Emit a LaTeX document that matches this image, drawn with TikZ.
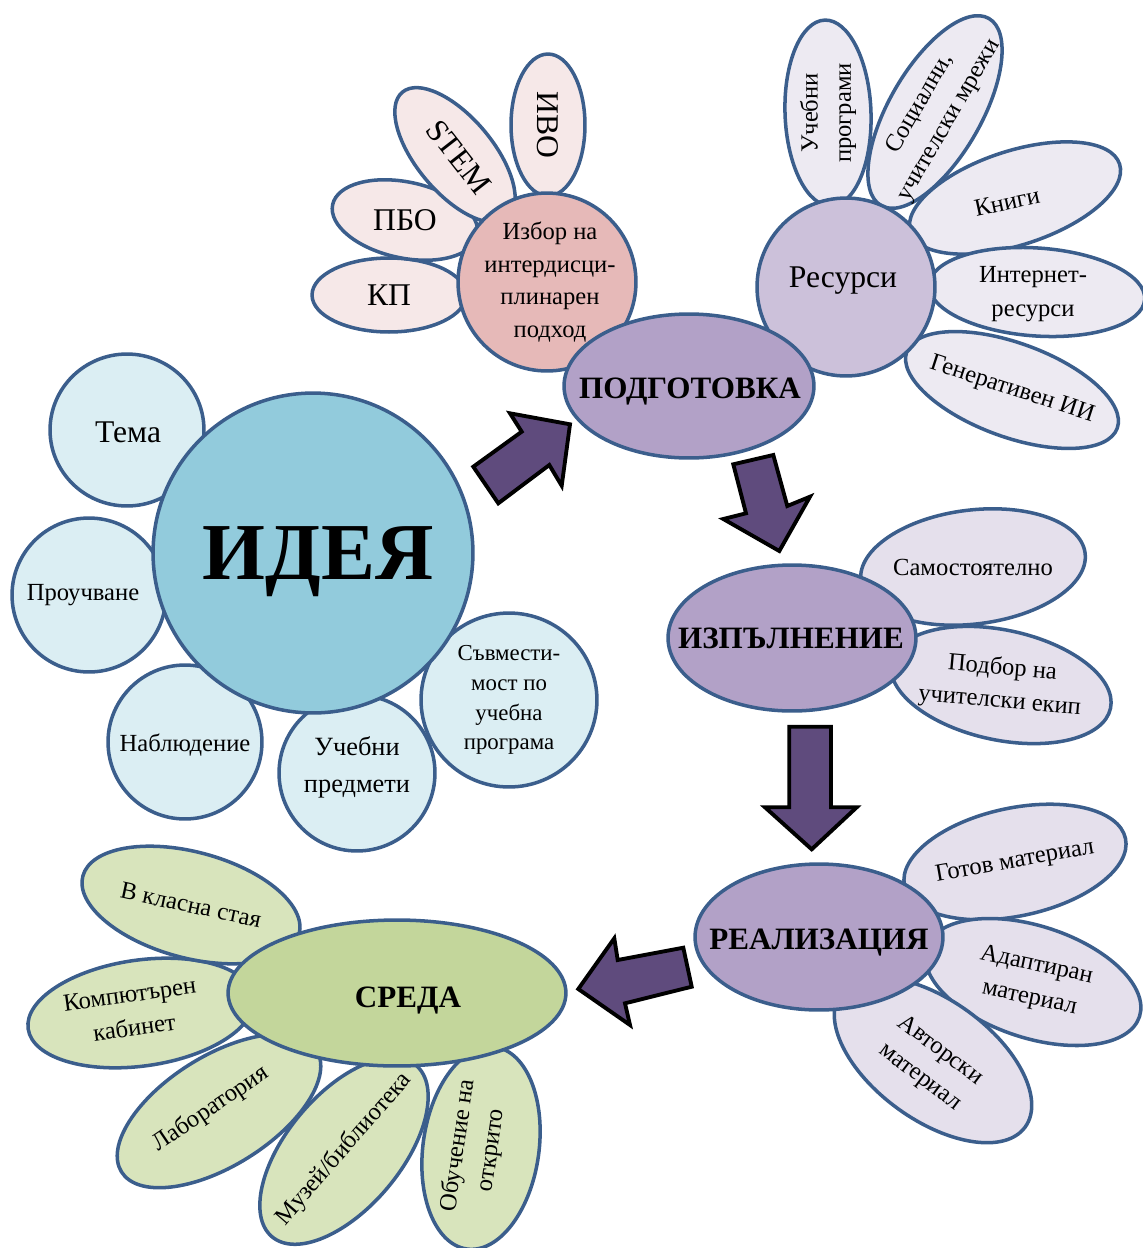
\documentclass[tikz,border=0pt]{standalone}
\usepackage{fontspec}
\setmainfont{Liberation Serif}
\usetikzlibrary{shapes.geometric}
\pgfdeclarelayer{fg}
\pgfsetlayers{main,fg}
\definecolor{edgeblue}{RGB}{59,94,140}
\definecolor{ideaC}{RGB}{146,203,220}
\definecolor{ideaP}{RGB}{219,238,243}
\definecolor{pinkC}{RGB}{230,185,184}
\definecolor{pinkP}{RGB}{246,232,232}
\definecolor{violetM}{RGB}{178,161,199}
\definecolor{resC}{RGB}{204,193,218}
\definecolor{resP}{RGB}{237,234,242}
\definecolor{lilacP}{RGB}{229,224,236}
\definecolor{greenC}{RGB}{195,214,155}
\definecolor{greenP}{RGB}{216,228,188}
\definecolor{arrowfill}{RGB}{95,75,125}
% name, x, y, rx, ry, shape angle, fill style, text options, text
\newcommand\petal[9]{%
  \node[base,#7,minimum width={#4*0.04cm},minimum height={#5*0.04cm},rotate=#6] (#1) at (#2,#3) {};
  \begin{pgfonlayer}{fg}
  \node[align=center,inner sep=0pt,#8] (#1t) at (#1.center) {#9};
  \end{pgfonlayer}}
\begin{document}
\begin{tikzpicture}[x=0.02cm,y=-0.02cm,
  base/.style={ellipse,draw=edgeblue,line width=2pt,inner sep=0pt},
  fIdeaC/.style={fill=ideaC}, fIdeaP/.style={fill=ideaP},
  fPinkC/.style={fill=pinkC}, fPinkP/.style={fill=pinkP},
  fViolet/.style={fill=violetM}, fResC/.style={fill=resC},
  fResP/.style={fill=resP}, fLilac/.style={fill=lilacP},
  fGreenC/.style={fill=greenC}, fGreenP/.style={fill=greenP},
  tS/.style={font=\fontsize{14}{19}\selectfont},
  tM/.style={font=\fontsize{18}{22}\selectfont},
  tB/.style={font=\fontsize{17.7}{21}\selectfont\bfseries,text depth=0pt},
  blockarrow/.style={fill=arrowfill,draw=black,line width=2.2pt,line join=miter}]
\useasboundingbox (0,0) rectangle (1143,1248);

% ---------- IDEA ----------
\petal{tema}{127}{430}{77}{76}{0}{fIdeaP}{tM,shift={(1,2)}}{Тема}
\petal{prouch}{89}{595}{77}{77}{0}{fIdeaP}{tS,shift={(-6,0)}}{Проучване}
\petal{nabl}{185}{742}{77}{77}{0}{fIdeaP}{tS,shift={(0,3)}}{Наблюдение}
\petal{uchpr}{357}{773}{78}{78}{0}{fIdeaP}{font=\fontsize{15}{21}\selectfont,shift={(0,-6)}}{Учебни\\предмети}
\petal{savm}{509}{700}{88}{87}{0}{fIdeaP}{font=\fontsize{13}{17}\selectfont}{Съвмести-\\мост по\\учебна\\програма}
\petal{idea}{313}{553}{160}{160}{0}{fIdeaC}{font=\fontsize{46}{50}\selectfont\bfseries,text depth=0pt,shift={(5,0)}}{ИДЕЯ}

% ---------- interdisciplinary ----------
\petal{kp}{389}{295}{77}{37}{0}{fPinkP}{tM}{КП}
\petal{pbo}{405}{220}{74}{38}{-12}{fPinkP}{tM}{ПБО}
\petal{stem}{455}{155}{82}{38}{-50}{fPinkP}{tM,shift={(4,2)},rotate=-52}{STEM}
\petal{ivo}{548}{125}{71}{37}{-90}{fPinkP}{tM,rotate=-90}{ИВО}
\petal{izbor}{547}{282}{89}{89}{0}{fPinkC}{font=\fontsize{14}{18.5}\selectfont,shift={(3,0)}}{Избор на\\интердисци-\\плинарен\\подход}

% ---------- resources ----------
\petal{uchprog}{828}{113}{93}{43}{92}{fResP}{tS,rotate=90}{Учебни\\програми}
\petal{social}{935}{112}{108}{46}{60}{fResP}{tS,rotate=60}{Социални,\\учителски мрежи}
\petal{knigi}{1015}{198}{110}{47}{18}{fResP}{tS,shift={(-8,4)},rotate=12}{Книги}
\petal{internet}{1037}{292}{108}{44}{-4}{fResP}{tS,shift={(-4,2)}}{Интернет-\\ресурси}
\petal{genii}{1012}{390}{112}{47}{-20}{fResP}{tS,rotate=-18}{Генеративен ИИ}
\petal{resursi}{846}{287}{89}{89}{0}{fResC}{tM,shift={(-3,-6)}}{Ресурси}

\petal{podg}{689}{386}{125}{72}{0}{fViolet}{tB,shift={(1,2)}}{ПОДГОТОВКА}

% ---------- execution ----------
\petal{samost}{973}{567}{113}{57}{7}{fLilac}{tS}{Самостоятелно}
\petal{podbor}{1001}{685}{112}{55}{-12}{fLilac}{tS,rotate=-5}{Подбор на\\учителски екип}
\petal{izpal}{792}{638}{124}{73}{0}{fViolet}{tB,shift={(-1,0)}}{ИЗПЪЛНЕНИЕ}

% ---------- realization ----------
\petal{gotov}{1015}{862}{113}{54}{12}{fLilac}{tS,rotate=10}{Готов материал}
\petal{adapt}{1033}{982}{112}{56}{-18}{fLilac}{tS,rotate=-12}{Адаптиран\\материал}
\petal{avtor}{933}{1060}{114}{60}{-36}{fLilac}{tS,shift={(-3,4)},rotate=-37}{Авторски\\материал}
\petal{real}{819}{937}{124}{73}{0}{fViolet}{tB,shift={(0,2)}}{РЕАЛИЗАЦИЯ}

% ---------- environment ----------
\petal{labor}{219}{1111}{115}{55}{32}{fGreenP}{tS,shift={(-8,-2)},rotate=34}{Лаборатория}
\petal{muzei}{344}{1151}{112}{57}{50}{fGreenP}{tS,shift={(0,-2)},rotate=49}{Музей/библиотека}
\petal{obuch}{481}{1148}{102}{58}{82}{fGreenP}{tS,shift={(-6,0)},rotate=82}{Обучение на\\открито}
\petal{komp}{141}{1013}{114}{53}{8}{fGreenP}{tS,shift={(-9,-2)},rotate=8}{Компютърен\\кабинет}
\petal{klasna}{191}{905}{112}{53}{-15}{fGreenP}{tS,rotate=-12}{В класна стая}
\petal{sreda}{397}{993}{169}{73}{0}{fGreenC}{tB,shift={(11,4)}}{СРЕДА}

% ---------- block arrows ----------
\draw[blockarrow] (473.3,466.7) -- (521.7,431.7) -- (510,413.3) -- (570,424.3)
  -- (561.7,485.7) -- (549.3,465) -- (498.3,503.3) -- cycle;
\draw[blockarrow] (733.3,464.3) -- (773.3,455) -- (787.3,506) -- (810,496.7)
  -- (779.3,551) -- (723.3,519) -- (746,513.3) -- cycle;
\draw[blockarrow] (789.3,726.7) -- (831,726.7) -- (831,807.3) -- (856.7,807.3)
  -- (811.7,849.3) -- (765,807.3) -- (789.3,807.3) -- cycle;
\draw[blockarrow] (578.3,989) -- (614.3,938.3) -- (617.7,960) -- (683.3,947.7)
  -- (691.7,986.7) -- (625,1003.3) -- (630,1025) -- cycle;
\end{tikzpicture}
\end{document}
